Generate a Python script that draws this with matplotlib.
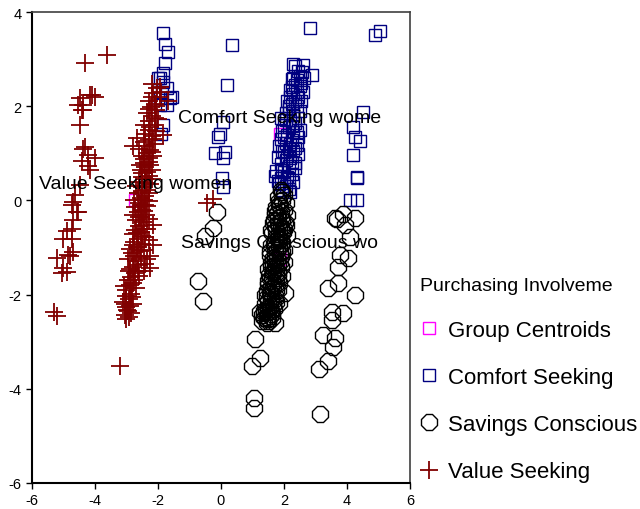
import matplotlib
matplotlib.use("Agg")
import matplotlib.pyplot as plt

plt.rcParams['font.family'] = ['Liberation Sans', 'DejaVu Sans']
plt.rcParams['axes.unicode_minus'] = False

# ---- data ----
centroid_x = [1.87, 1.86, -2.72]
centroid_y = [1.40, -1.25, 0.00]
centroid_labels = ["Comfort Seeking wome", "Savings Conscious wo", "Value Seeking women"]

comfort_x = [2.3, 2.6, 2.88, 2.45, 2.57, 2.24, 2.4, 2.65, 2.35, 2.5, 2.2, 2.6, 2.3, 2.45, 2.1, 2.55,
             2.25, 2.4, 2.15, 2.5, 2.05, 2.3, 2.45, 1.9, 2.2, 2.35, 2.0, 2.15, 2.5, 1.95, 2.3, 2.1,
             2.45, 1.9, 2.25, 2.05, 2.4, 1.85, 2.15, 2.3, 2.0, 2.45, 1.8, 2.2, 2.05, 2.35, 1.9, 2.15,
             2.35, 1.75, 2.0, 2.25, 1.7, 1.9, 2.15, 2.3, 1.85, 2.05, 1.95, 2.2,
             2.35, 2.5, 2.3, 2.55, 2.25, 2.4, 2.2, 2.35, 2.15, 2.3, 2.05, 2.25, 2.4, 2.0, 2.2,
             2.35, 1.95, 2.1, 2.25, 1.95, 2.1, 1.8, 2.0, 2.15,
             0.34, 0.18, 0.07, -0.03, -0.09, -0.19, 0.13, 0.07, 0.02, 0.07,
             2.83, 4.89, 5.05, 4.52, 4.2, 4.25, 4.41, 4.2, 4.31, 4.33, 4.1, 4.31,
             -1.83, -1.78, -1.67, -1.78, -1.83, -1.94, -1.83, -1.72, -1.56, -1.88, -1.94, -1.72,
             -1.94, -1.62, -1.99, -1.9, -1.85]
comfort_y = [2.9, 2.88, 2.67, 2.75, 2.73, 2.58, 2.55, 2.6, 2.45, 2.42, 2.35, 2.3, 2.25, 2.2, 2.12, 2.1,
             2.05, 2.0, 1.95, 1.9, 1.85, 1.82, 1.75, 1.74, 1.7, 1.64, 1.6, 1.55, 1.5, 1.48, 1.45, 1.38,
             1.35, 1.3, 1.28, 1.22, 1.18, 1.15, 1.1, 1.05, 1.02, 0.98, 0.92, 0.9, 0.85, 0.8, 0.78, 0.72,
             0.68, 0.62, 0.6, 0.55, 0.52, 0.48, 0.45, 0.4, 0.35, 0.3, 0.22, 0.18,
             2.85, 2.65, 2.6, 2.5, 2.4, 2.3, 2.2, 2.1, 2.0, 1.9, 1.7, 1.58, 1.45, 1.35, 1.2,
             1.12, 1.05, 0.95, 0.82, 0.65, 0.5, 0.42, 0.38, 0.25,
             3.3, 2.45, 1.67, 1.42, 1.35, 1.0, 1.03, 0.89, 0.47, 0.29,
             3.65, 3.52, 3.6, 1.88, 1.56, 1.35, 1.26, 0.96, 0.48, 0.5, 0.0, 0.0,
             3.55, 3.33, 3.16, 2.91, 2.7, 2.59, 2.52, 2.38, 2.2, 2.31, 2.17, 2.02,
             2.02, 2.17, 2.59, 1.4, 1.6]

savings_x = [1.9, 2.0, 1.82, 1.95, 2.05, 1.85, 1.75, 2.0, 1.9, 1.7, 2.1, 1.8, 1.95, 1.65, 2.05, 1.85,
             1.75, 1.95, 1.62, 2.08, 1.8, 1.7, 1.95, 1.6, 1.85, 2.0, 1.72, 1.55, 1.9, 1.78, 2.0, 1.6,
             1.7, 1.9, 1.5, 1.8, 1.65, 1.95, 1.55, 1.75, 1.85, 1.48, 1.65, 1.8, 1.55, 2.03, 1.7, 1.45,
             1.6, 1.75, 1.4, 1.55, 1.68, 1.35, 1.5, 1.62, 1.3, 1.45, 1.24, 1.45, 1.71, 1.3,
             1.95, 1.85, 1.72, 1.9, 1.82, 1.7, 2.0, 1.85, 1.68, 1.9, 1.78, 1.65, 1.88, 1.58, 1.75,
             1.62, 1.82, 1.5, 1.7, 1.6, 1.5, 1.65, 1.42, 1.55, 1.38, 1.5, 1.62, 1.8, 1.95, 2.02,
             1.88, 1.78, 1.92, 1.68, 1.84, 1.74, 1.6, 1.86, 1.7, 1.8, 1.56, 1.72, 1.64, 1.9, 1.52,
             1.76, 1.66, 1.46, 1.58, 1.7, 1.36, 1.48, 1.6, 1.4, 1.98, 1.76, 1.66, 1.84, 1.58, 1.5,
             1.08, 1.24, 0.98, 1.05, 1.05,
             -0.14, -0.24, -0.5, -0.73, -0.56,
             3.62, 3.88, 4.25, 3.94, 4.1, 3.78, 4.04, 3.72, 3.72, 3.41, 4.25, 3.51, 3.88, 3.51,
             3.25, 3.62, 3.57, 3.41, 3.1, 3.14, 3.67]
savings_y = [0.22, 0.12, 0.08, 0.0, -0.05, -0.1, -0.15, -0.2, -0.25, -0.3, -0.32, -0.38, -0.42, -0.48,
             -0.52, -0.55, -0.62, -0.66, -0.7, -0.74, -0.8, -0.86, -0.9, -0.95, -1.0, -1.05, -1.1,
             -1.15, -1.18, -1.24, -1.3, -1.32, -1.38, -1.42, -1.46, -1.5, -1.55, -1.6, -1.65, -1.7,
             -1.76, -1.8, -1.85, -1.9, -1.95, -1.97, -2.02, -2.06, -2.12, -2.16, -2.2, -2.24, -2.3,
             -2.34, -2.38, -2.42, -2.44, -2.48, -2.36, -2.61, -2.61, -2.55,
             0.18, -0.02, -0.22, -0.35, -0.48, -0.55, -0.6, -0.72, -0.92, -0.95, -1.05, -1.22,
             -1.3, -1.42, -1.45, -1.62, -1.65, -1.72, -1.8, -1.98, -2.15, -2.22, -2.3, -2.45,
             -2.5, -2.55, -2.5, -1.55, -1.1, -0.45,
             -0.12, -0.28, -0.58, -0.42, -0.85, -0.78, -0.62, -1.12, -1.0, -1.35, -1.08, -1.25,
             -1.5, -0.82, -1.58, -1.9, -1.75, -1.92, -2.05, -2.1, -2.4, -2.28, -2.35, -2.0,
             -0.68, -1.6, -1.4, -2.18, -1.85, -2.52,
             -2.95, -3.35, -3.52, -4.2, -4.4,
             -0.24, -0.59, -0.75, -1.72, -2.13,
             -0.38, -0.28, -0.38, -0.52, -0.77, -1.16, -1.23, -1.41, -1.76, -1.87, -2.01, -2.36,
             -2.4, -2.54, -2.86, -2.93, -3.11, -3.42, -3.57, -4.54, -0.4]

value_x = [-3.0, -2.92, -3.05, -2.85, -2.98, -3.0, -2.8, -3.12, -2.93, -3.0, -2.86,
           -3.08, -2.7, -2.78, -2.96, -2.85, -2.72, -2.92,
           -2.46, -2.65, -2.8, -2.25, -2.95, -2.7, -2.55, -2.25, -2.82, -2.57, -2.88, -2.68,
           -2.15, -2.5, -2.75, -2.62, -2.4, -2.8, -2.55, -2.72, -2.35, -2.6, -2.15,
           -2.47, -2.7, -2.55, -2.38, -2.65, -2.5, -2.72, -2.42, -2.6, -2.3,
           -2.55, -2.4, -2.65, -2.35, -2.5, -2.25, -2.6, -2.42,
           -2.3, -2.5, -2.2, -2.4, -2.58, -2.28, -2.45, -2.15, -2.35,
           -2.79, -2.6, -2.25, -2.42, -2.1, -2.68, -2.3, -2.18, -1.84, -2.4, -2.05,
           -2.25, -2.1, -2.3, -2.0, -2.18, -2.35, -2.05, -2.22,
           -1.67, -2.1, -2.28, -1.95, -2.15, -2.04, -2.2, -1.9,
           -2.95, -3.05, -2.9, -2.82, -3.02, -2.9, -2.75, -2.6, -2.88, -2.62, -2.4, -2.75,
           -2.45, -2.35, -2.62, -2.78, -2.3, -2.52, -2.68, -2.45, -2.3, -2.6, -2.78, -2.45,
           -2.35, -2.55, -2.75, -2.45, -2.3, -2.5, -2.7, -2.38, -2.2, -2.5, -2.35, -2.55,
           -2.25, -2.45, -2.3, -2.5, -2.2, -2.45, -2.15, -2.3, -2.45, -2.1, -2.3, -2.05,
           -2.2, -1.95,
           -3.62, -4.32, -4.16, -4.0, -4.48, -4.38, -4.41, -4.48, -4.32, -4.22, -4.41, -4.0,
           -4.22, -4.48, -4.63, -4.73, -4.54, -4.69, -4.73, -4.9, -4.74, -5.0, -4.69, -4.85,
           -5.22, -4.79, -5.0, -5.06, -4.89, -5.3, -5.2, -3.21, -0.44, -0.25,
           -4.1, -4.53, -4.37, -4.37, -4.16, -4.69, -4.58]
value_y = [-2.52, -2.47, -2.43, -2.4, -2.33, -2.27, -2.2, -2.16, -2.1, -2.03, -1.98,
           -1.82, -1.87, -1.75, -1.68, -1.62, -1.55, -1.5,
           -1.5, -1.38, -1.42, -1.44, -1.25, -1.28, -1.2, -1.18, -1.12, -1.08, -1.04, -1.0,
           -0.95, -0.93, -0.88, -0.82, -0.78, -0.72, -0.68, -0.62, -0.6, -0.55, -0.52,
           -0.45, -0.42, -0.36, -0.3, -0.25, -0.2, -0.15, -0.1, -0.05, -0.02,
           0.05, 0.1, 0.16, 0.22, 0.28, 0.34, 0.4, 0.45,
           0.52, 0.58, 0.64, 0.7, 0.76, 0.82, 0.88, 0.94, 1.0,
           1.15, 1.1, 1.08, 1.15, 1.2, 1.32, 1.28, 1.36, 1.38, 1.42, 1.48,
           1.55, 1.6, 1.68, 1.72, 1.8, 1.86, 1.92, 1.98,
           2.1, 2.05, 2.12, 2.2, 2.28, 2.38, 2.48, 2.3,
           -2.35, -2.2, -2.25, -2.05, -1.9, -1.8, -1.68, -1.6, -1.45, -1.5, -1.35, -1.18,
           -1.05, -1.25, -0.98, -0.95, -0.85, -0.75, -0.7, -0.6, -0.4, -0.35, -0.3, -0.22,
           -0.12, -0.1, 0.0, 0.0, 0.15, 0.2, 0.3, 0.38, 0.45, 0.5, 0.6, 0.65,
           0.75, 0.8, 0.9, 0.95, 1.02, 1.25, 1.3, 1.5, 1.6, 1.75, 1.95, 2.0,
           2.2, 2.4,
           3.08, 2.91, 2.23, 2.2, 2.17, 2.02, 1.91, 1.6, 1.14, 0.96, 0.83, 0.89,
           0.72, 0.32, 0.11, -0.1, -0.24, -0.42, -0.6, -0.66, -0.81, -0.81, -1.09, -1.16,
           -1.23, -1.19, -1.44, -1.55, -1.51, -2.36, -2.46, -3.52, -0.06, 0.04,
           2.24, 2.02, 1.92, 1.1, 0.64, -0.03, -0.24]

x_ticks = [-6, -4, -2, 0, 2, 4, 6]
y_ticks = [-6, -4, -2, 0, 2, 4]
legend_title = "Purchasing Involveme"
legend_labels = ["Group Centroids", "Comfort Seeking", "Savings Conscious", "Value Seeking"]

# ---- figure ----
fig = plt.figure(figsize=(6.4, 5.1), dpi=100)
ax = fig.add_axes([0.05, 0.051, 0.5906, 0.9235])

h0, = ax.plot(centroid_x, centroid_y, ls='none', marker='s', ms=8, mfc='none',
              mec='#FF00FF', mew=1.0)
h1, = ax.plot(comfort_x, comfort_y, ls='none', marker='s', ms=8, mfc='none',
              mec='#000080', mew=1.0)
h2, = ax.plot(savings_x, savings_y, ls='none', marker='8', ms=13, mfc='none',
              mec='black', mew=1.0)
h3, = ax.plot(value_x, value_y, ls='none', marker='+', ms=13, mec='#800000', mew=1.3)

for cx, cy, lab in zip(centroid_x, centroid_y, centroid_labels):
    ax.annotate(lab, (cx, cy), xytext=(0, 12), textcoords='offset points',
                ha='center', va='center', fontsize=14, color='black', zorder=10)

ax.set_xlim(-6, 6)
ax.set_ylim(-6, 4)
ax.set_xticks(x_ticks)
ax.set_yticks(y_ticks)
ax.tick_params(direction='out', length=4, width=1, labelsize=10.5, colors='black')
for s in ['left', 'bottom']:
    ax.spines[s].set_linewidth(1.5)
    ax.spines[s].set_color('black')
for s in ['top', 'right']:
    ax.spines[s].set_linewidth(1.2)
    ax.spines[s].set_color('#404040')

leg = fig.legend([h0, h1, h2, h3], legend_labels, title=legend_title,
                 loc='upper left', bbox_to_anchor=(0.636, 0.482), frameon=False,
                 fontsize=16, title_fontsize=14, labelspacing=1.18,
                 handlelength=0.8, handletextpad=0.44, borderaxespad=0,
                 borderpad=0.6, alignment='left')

fig.savefig("out.png", dpi=100)
